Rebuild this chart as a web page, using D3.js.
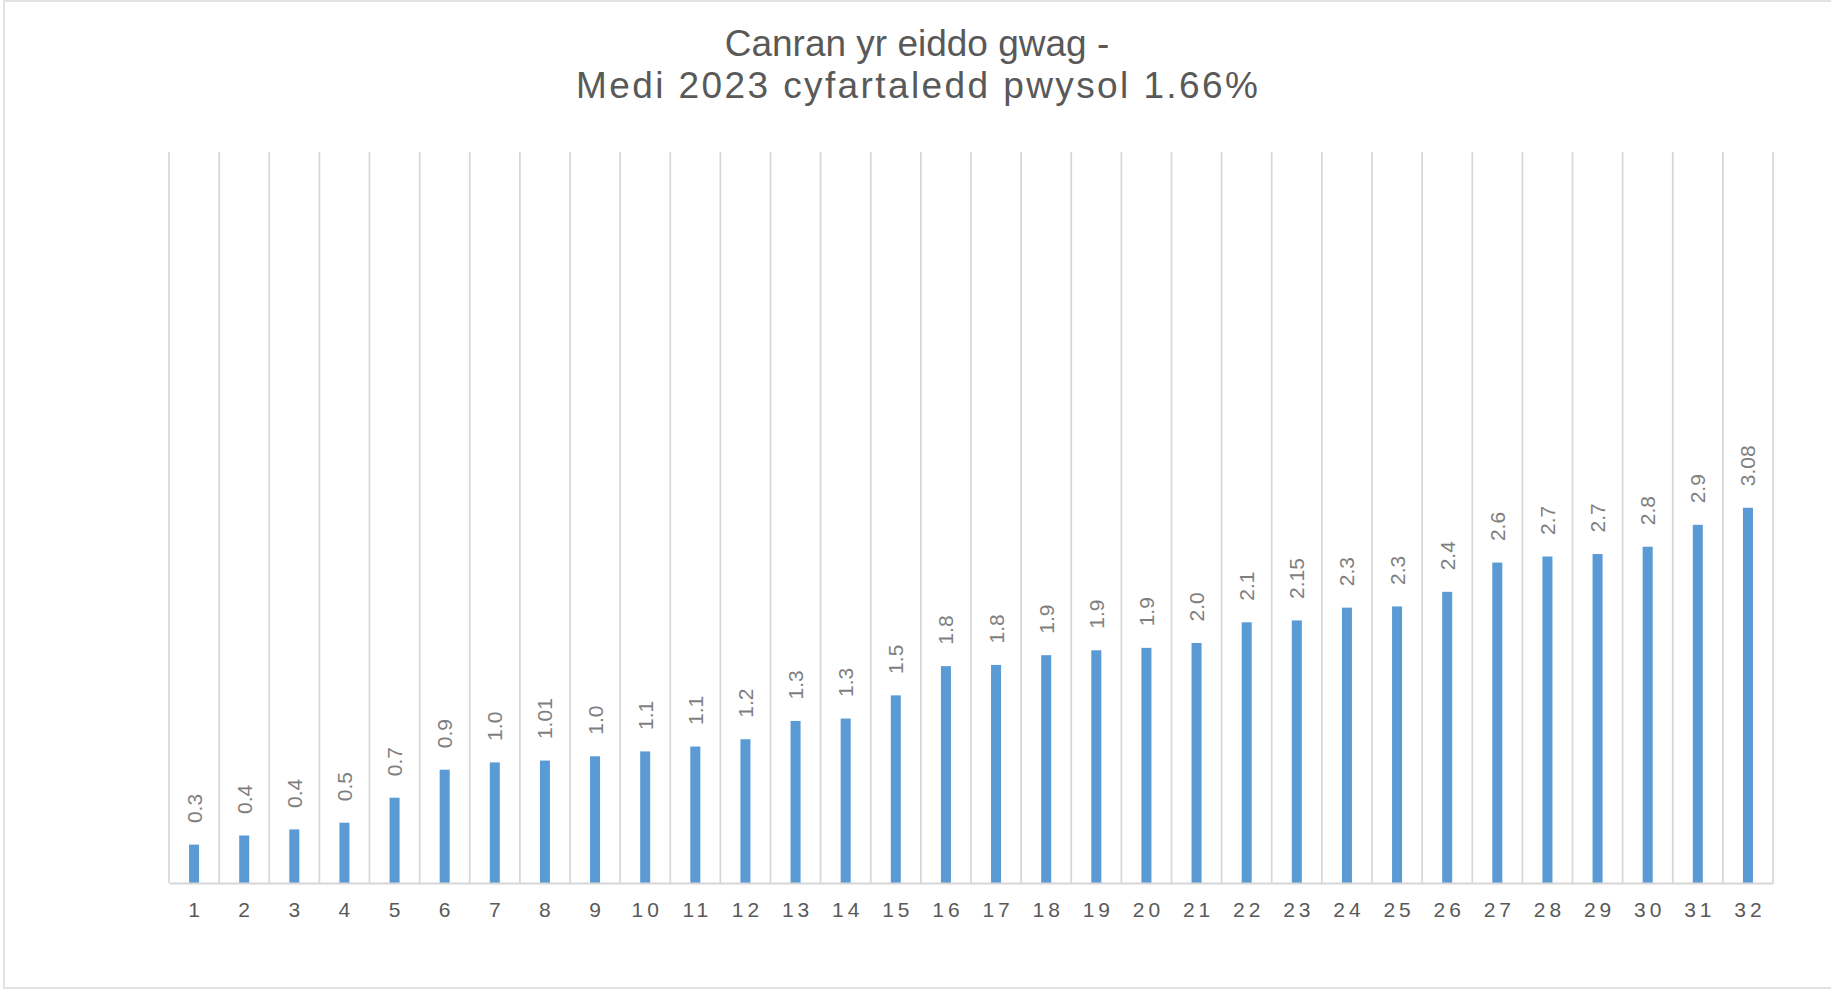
<!DOCTYPE html>
<html>
<head>
<meta charset="utf-8">
<script src="https://cdn.jsdelivr.net/npm/d3@7"></script>
<style>
  html, body { margin: 0; padding: 0; background: #fff; }
  svg { display: block; }
</style>
</head>
<body>
<svg id="chart" width="1831" height="989"></svg>
<script>
const titleLines = ["Canran yr eiddo gwag -", "Medi 2023 cyfartaledd pwysol 1.66%"];
const categories = ["1","2","3","4","5","6","7","8","9","10","11","12","13","14","15","16",
                    "17","18","19","20","21","22","23","24","25","26","27","28","29","30","31","32"];
const values = [0.315, 0.39, 0.44, 0.495, 0.70, 0.93, 0.99, 1.005, 1.04, 1.08, 1.12, 1.18,
                1.33, 1.35, 1.54, 1.78, 1.79, 1.87, 1.91, 1.93, 1.97, 2.14, 2.155, 2.26,
                2.27, 2.39, 2.63, 2.68, 2.70, 2.76, 2.94, 3.08];
const valueLabels = ["0.3","0.4","0.4","0.5","0.7","0.9","1.0","1.01","1.0","1.1","1.1","1.2",
                     "1.3","1.3","1.5","1.8","1.8","1.9","1.9","1.9","2.0","2.1","2.15","2.3",
                     "2.3","2.4","2.6","2.7","2.7","2.8","2.9","3.08"];
const yDomain = [0, 6];

const svg = d3.select("#chart");
const plot = { left: 169, right: 1773, top: 152, bottom: 883 };

// chart border
svg.append("rect")
  .attr("x", 4).attr("y", 1)
  .attr("width", 1900).attr("height", 987)
  .attr("fill", "#fff").attr("stroke", "#d9d9d9").attr("stroke-width", 1.5);

// title
const title = svg.append("text")
  .attr("text-anchor", "middle")
  .attr("font-family", "'Liberation Sans', Arial, sans-serif")
  .attr("font-size", 37)
  .attr("fill", "#595959");
title.append("tspan").attr("x", 917).attr("y", 56).text(titleLines[0]);
title.append("tspan").attr("x", 917 + 1.2).attr("y", 97.5)
  .attr("letter-spacing", 2.4).text(titleLines[1]);

const x = d3.scaleBand().domain(categories).range([plot.left, plot.right]).padding(0);
const y = d3.scaleLinear().domain(yDomain).range([plot.bottom, plot.top]);

// vertical category gridlines
const bounds = categories.map(c => x(c)).concat([plot.right]);
svg.append("g").selectAll("line").data(bounds).join("line")
  .attr("x1", d => d).attr("x2", d => d)
  .attr("y1", plot.top).attr("y2", plot.bottom)
  .attr("stroke", "#d6d6d6").attr("stroke-width", 1.7);

// bars
const barW = x.bandwidth() * 0.2;
svg.append("g").selectAll("rect").data(values).join("rect")
  .attr("x", (d, i) => x(categories[i]) + (x.bandwidth() - barW) / 2)
  .attr("y", d => y(d))
  .attr("width", barW)
  .attr("height", d => y(0) - y(d))
  .attr("fill", "#5b9bd5");

// baseline axis
const xAxis = d3.axisBottom(x).tickSize(0).tickPadding(0);
const gx = svg.append("g").attr("transform", `translate(0,${plot.bottom})`).call(xAxis);
gx.select(".domain").attr("stroke", "#d6d6d6").attr("stroke-width", 2);
gx.selectAll(".tick text")
  .attr("y", 34)
  .attr("dy", 0)
  .attr("dx", 2)
  .attr("font-family", "'Liberation Sans', Arial, sans-serif")
  .attr("font-size", 21)
  .attr("letter-spacing", 4)
  .attr("fill", "#595959");

// data labels (rotated)
svg.append("g").selectAll("text").data(values).join("text")
  .attr("transform", (d, i) => {
    const cx = x(categories[i]) + x.bandwidth() / 2 + 7.5;
    const cy = y(d) - 21.5;
    return `translate(${cx},${cy}) rotate(-90)`;
  })
  .attr("text-anchor", "start")
  .attr("font-family", "'Liberation Sans', Arial, sans-serif")
  .attr("font-size", 21)
  .attr("fill", "#7f7f7f")
  .text((d, i) => valueLabels[i]);
</script>
</body>
</html>
